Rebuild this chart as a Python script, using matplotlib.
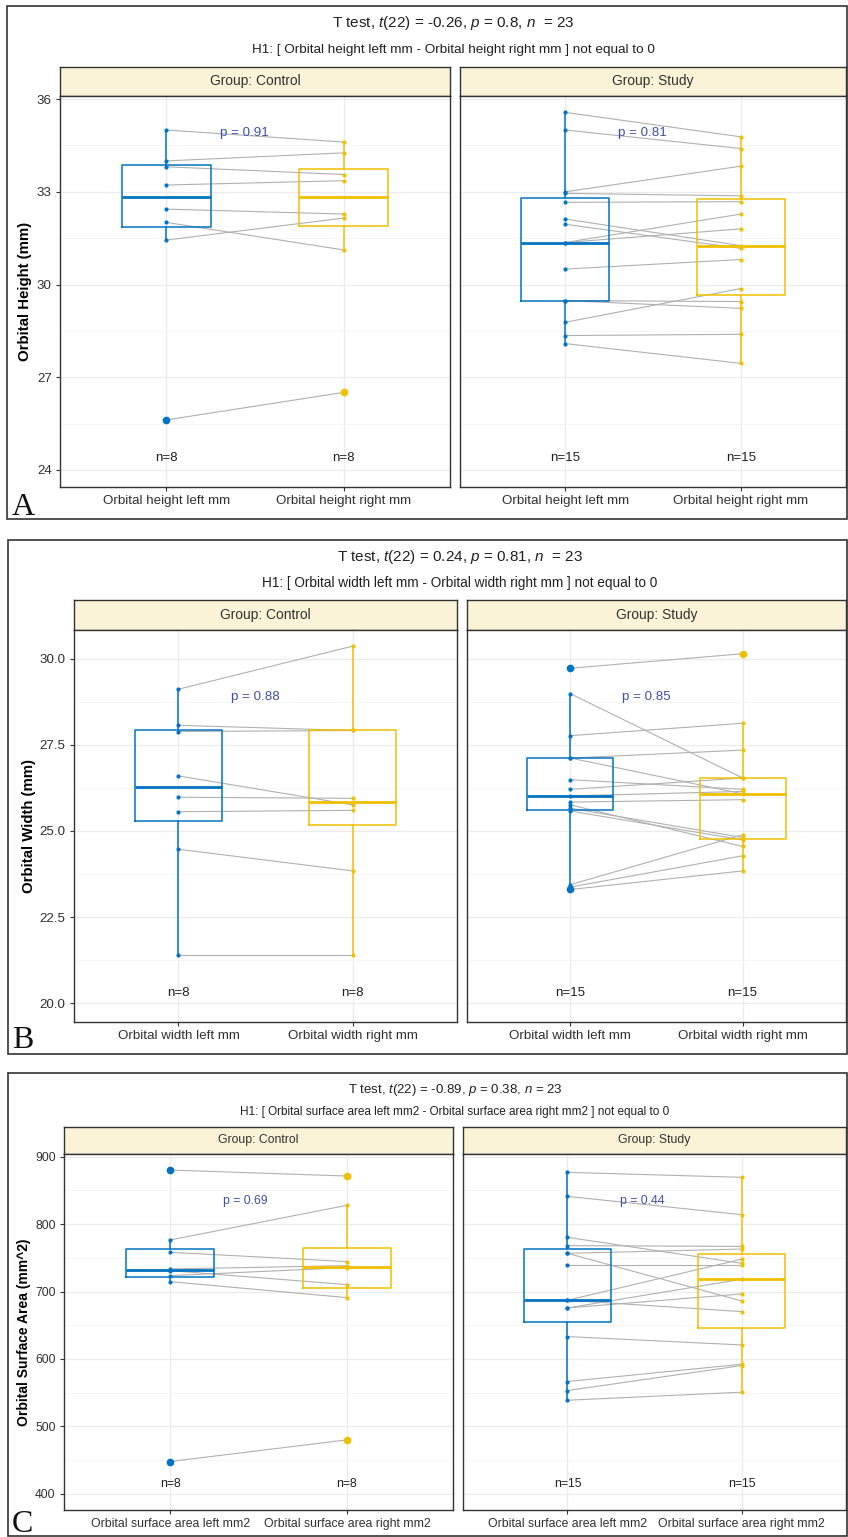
import matplotlib
matplotlib.use("Agg")
import matplotlib.pyplot as plt
from matplotlib.patches import Rectangle
import numpy as np

plt.rcParams['font.family'] = ['Liberation Sans', 'DejaVu Sans']
plt.rcParams['mathtext.fontset'] = 'custom'
plt.rcParams['mathtext.it'] = 'Liberation Sans:italic'
plt.rcParams['mathtext.rm'] = 'Liberation Sans'

# ---- data ----
groups = ['Group: Control', 'Group: Study']

# A: orbital height (mm), paired left/right
a_ctrl_left = [35.0, 34.0, 33.81, 33.22, 32.44, 32.01, 31.44, 25.62]
a_ctrl_right = [34.61, 34.26, 33.56, 33.36, 32.28, 31.12, 32.15, 26.51]
a_study_left = [35.57, 35.0, 33.0, 32.95, 32.66, 32.12, 31.95, 31.36, 31.36, 30.50, 29.48, 29.48, 28.78, 28.35, 28.09]
a_study_right = [34.78, 34.40, 33.83, 32.87, 32.68, 31.26, 31.17, 32.28, 31.80, 30.81, 29.45, 29.23, 29.87, 28.39, 27.45]

# B: orbital width (mm)
b_ctrl_left = [29.12, 28.07, 27.89, 26.60, 25.98, 25.56, 24.47, 21.41]
b_ctrl_right = [30.37, 27.92, 27.92, 25.76, 25.95, 25.60, 23.84, 21.41]
b_study_left = [29.73, 28.99, 27.77, 27.12, 27.12, 26.49, 26.21, 26.02, 25.84, 25.76, 25.58, 25.66, 23.44, 23.37, 23.30]
b_study_right = [30.15, 26.54, 28.13, 27.35, 26.08, 26.21, 26.54, 26.15, 25.91, 24.55, 24.74, 24.81, 24.89, 24.28, 23.84]

# C: orbital surface area (mm^2)
c_ctrl_left = [880.2, 776.5, 758.2, 733.5, 731.0, 723.6, 714.7, 447.9]
c_ctrl_right = [871.3, 827.9, 744.4, 738.4, 710.3, 735.5, 691.0, 480.0]
c_study_left = [876.8, 841.2, 780.4, 768.1, 756.7, 756.7, 738.9, 687.1, 687.1, 675.7, 675.7, 633.2, 566.5, 553.2, 538.8]
c_study_right = [869.4, 814.0, 741.9, 767.0, 763.0, 686.1, 738.9, 748.0, 670.3, 718.2, 696.4, 620.8, 592.2, 590.2, 550.7]

a_pvals = ['p = 0.91', 'p = 0.81']
b_pvals = ['p = 0.88', 'p = 0.85']
c_pvals = ['p = 0.69', 'p = 0.44']

a_titles = [r'T test, $\it{t}$(22) = -0.26, $\it{p}$ = 0.8, $\it{n}$  = 23',
            'H1: [ Orbital height left mm - Orbital height right mm ] not equal to 0']
b_titles = [r'T test, $\it{t}$(22) = 0.24, $\it{p}$ = 0.81, $\it{n}$  = 23',
            'H1: [ Orbital width left mm - Orbital width right mm ] not equal to 0']
c_titles = [r'T test, $\it{t}$(22) = -0.89, $\it{p}$ = 0.38, $\it{n}$ = 23',
            'H1: [ Orbital surface area left mm2 - Orbital surface area right mm2 ] not equal to 0']

a_xlabels = ['Orbital height left mm', 'Orbital height right mm']
b_xlabels = ['Orbital width left mm', 'Orbital width right mm']
c_xlabels = ['Orbital surface area left mm2', 'Orbital surface area right mm2']

a_yticks = [24, 27, 30, 33, 36]
b_yticks = [20.0, 22.5, 25.0, 27.5, 30.0]
c_yticks = [400, 500, 600, 700, 800, 900]

BLUE = '#0073C2'
GOLD = '#EFC000'
STRIP = '#FBF3D8'
W, H = 848, 1537

fig = plt.figure(figsize=(W / 100, H / 100), dpi=100)


def px_axes(x0, y0, x1, y1):
    return fig.add_axes([x0 / W, 1 - y1 / H, (x1 - x0) / W, (y1 - y0) / H])


def draw_facet(ax, left, right, ylim, yticks, minor, xlabels, ptext, ny, fs, show_y):
    ax.set_xlim(-0.6, 1.6)
    ax.set_ylim(*ylim)
    ax.set_yticks(yticks)
    ax.set_yticks(minor, minor=True)
    ax.set_xticks([0, 1])
    ax.set_xticklabels(xlabels, fontsize=fs, color='#303030')
    if show_y:
        ax.set_yticklabels([('%g' % t) if isinstance(t, int) else ('%.1f' % t) for t in yticks],
                           fontsize=fs, color='#303030')
    else:
        ax.tick_params(axis='y', which='both', left=False, labelleft=False)
    ax.tick_params(axis='y', which='minor', length=0)
    ax.tick_params(length=3, color='#333333', width=0.8, pad=3)
    ax.grid(True, which='major', color='#EBEBEB', lw=0.9)
    ax.grid(True, which='minor', axis='y', color='#F4F4F4', lw=0.6)
    ax.set_axisbelow(True)
    for s in ax.spines.values():
        s.set_color('#333333')
        s.set_linewidth(1.0)

    for l, r in zip(left, right):
        ax.plot([0, 1], [l, r], color='#B0B0B0', lw=0.8, zorder=2)

    bp = ax.boxplot([left, right], positions=[0, 1], widths=0.5, whis=1.5,
                    showcaps=False, manage_ticks=False, zorder=3)
    for i, c in enumerate([BLUE, GOLD]):
        bp['boxes'][i].set(color=c, lw=1.1)
        bp['medians'][i].set(color=c, lw=2.0)
        for w in bp['whiskers'][2 * i:2 * i + 2]:
            w.set(color=c, lw=1.1)
        bp['fliers'][i].set(marker='o', markerfacecolor=c, markeredgecolor=c, markersize=4.5)

    ax.scatter(np.zeros(len(left)), left, s=9, color=BLUE, zorder=4, lw=0)
    ax.scatter(np.ones(len(right)), right, s=9, color=GOLD, zorder=4, lw=0)

    ax.text(0.3, ptext[1], ptext[0], color='#3F4FA8', fontsize=fs, ha='left', va='center')
    ax.text(0, ny, 'n=%d' % len(left), fontsize=fs, ha='center', va='center', color='#202020')
    ax.text(1, ny, 'n=%d' % len(right), fontsize=fs, ha='center', va='center', color='#202020')


def draw_panel(spec):
    fx0, fy0, fx1, fy1 = spec['frame']
    fig.add_artist(Rectangle((fx0 / W, 1 - fy1 / H), (fx1 - fx0) / W, (fy1 - fy0) / H,
                             transform=fig.transFigure, fill=False, ec='#333333', lw=1.2))
    sy0, py0, py1 = spec['rows']
    cx = (spec['facets'][0][0] + spec['facets'][1][1]) / 2
    tfs, sfs, stfs, yfs = spec['sizes']
    fig.text(cx / W, 1 - spec['title_y'][0] / H, spec['titles'][0], ha='center', va='center',
             fontsize=tfs, color='#202020')
    fig.text(cx / W, 1 - spec['title_y'][1] / H, spec['titles'][1], ha='center', va='center',
             fontsize=sfs, color='#202020')
    for k, (x0, x1) in enumerate(spec['facets']):
        st = px_axes(x0, sy0, x1, py0)
        st.set_facecolor(STRIP)
        st.set_xticks([])
        st.set_yticks([])
        for s in st.spines.values():
            s.set_color('#333333')
            s.set_linewidth(1.0)
        st.text(0.5, 0.5, groups[k], ha='center', va='center', fontsize=stfs,
                color='#303030', transform=st.transAxes)
        ax = px_axes(x0, py0, x1, py1)
        left, right = spec['data'][k]
        draw_facet(ax, left, right, spec['ylim'], spec['yticks'], spec['minor'], spec['xlabels'],
                   (spec['pvals'][k], spec['p_y']), spec['n_y'], spec['fs'], k == 0)
        if k == 0:
            ax.set_ylabel(spec['ylabel'], fontsize=yfs, fontweight='bold', labelpad=3)
    fig.text(spec['letter'][0] / W, 1 - spec['letter'][1] / H, spec['letter'][2],
             family='Liberation Serif', fontsize=23, ha='left', va='baseline', color='#111111')


panels = [
    dict(frame=(7, 6, 847, 519), rows=(67, 96, 487), facets=[(60, 450), (460, 846)],
         title_y=(23, 50), titles=a_titles, data=[(a_ctrl_left, a_ctrl_right), (a_study_left, a_study_right)],
         ylim=(23.45, 36.1), yticks=a_yticks, minor=[25.5, 28.5, 31.5, 34.5], xlabels=a_xlabels,
         pvals=a_pvals, p_y=34.9, n_y=24.38, fs=9.6, sizes=(11.0, 9.7, 9.9, 10.8),
         ylabel='Orbital Height (mm)', letter=(12, 515, 'A')),
    dict(frame=(8, 540, 847, 1054), rows=(600, 630, 1022), facets=[(74, 457), (467, 846)],
         title_y=(557, 583), titles=b_titles, data=[(b_ctrl_left, b_ctrl_right), (b_study_left, b_study_right)],
         ylim=(19.45, 30.84), yticks=b_yticks, minor=[21.25, 23.75, 26.25, 28.75], xlabels=b_xlabels,
         pvals=b_pvals, p_y=28.89, n_y=20.29, fs=9.6, sizes=(11.0, 9.8, 9.9, 10.8),
         ylabel='Orbital Width (mm)', letter=(12, 1048, 'B')),
    dict(frame=(8, 1073, 847, 1536), rows=(1127, 1154, 1510), facets=[(64, 453), (463, 846)],
         title_y=(1090, 1112), titles=c_titles, data=[(c_ctrl_left, c_ctrl_right), (c_study_left, c_study_right)],
         ylim=(376, 904), yticks=c_yticks, minor=[450, 550, 650, 750, 850], xlabels=c_xlabels,
         pvals=c_pvals, p_y=834.3, n_y=414.8, fs=8.8, sizes=(9.5, 8.5, 8.8, 10.0),
         ylabel='Orbital Surface Area (mm^2)', letter=(12, 1532, 'C')),
]

for p in panels:
    draw_panel(p)

fig.savefig('out.png', dpi=100)
